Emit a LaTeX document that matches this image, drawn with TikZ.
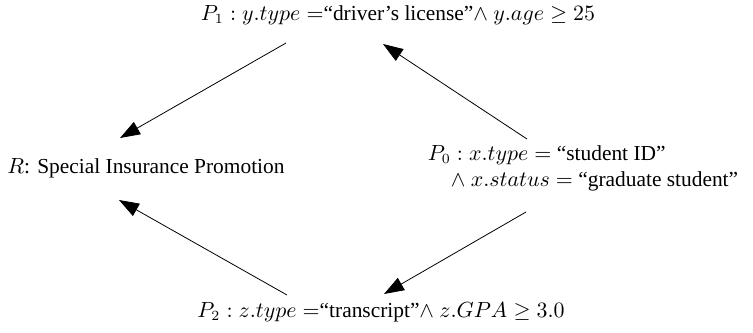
\documentclass[tikz,border=0pt]{standalone}
\usepackage{amssymb,amsmath}
\usepackage{fontspec}
\setmainfont{LiberationSerif}[Extension=.ttf,UprightFont=*-Regular,BoldFont=*-Bold,ItalicFont=*-Italic]
\usepackage{tikz}
\usetikzlibrary{arrows,arrows.meta,positioning}
\tikzset{lbl/.style={inner sep=0pt,font=\fontsize{10.7}{13}\selectfont},
         imp/.style={thin,->,>={Triangle[length=10pt,width=7pt]}}}

\begin{document}
\begin{tikzpicture}[x=0.5pt,y=-0.5pt]
\useasboundingbox (0,0) rectangle (753,332);
%predicates and rule
\node[lbl] (p1) at (398,15) {$P_1 : y.type =$“driver’s license”$\wedge\ y.age \geq 25$};
\node[lbl] (r) at (146,168) {$R$: Special Insurance Promotion};
\node[lbl,align=left] (p0) at (583,168) {$P_0 : x.type =$ “student ID”\\ \hspace{11.5pt}$\wedge\ x.status =$ “graduate student”};
\node[lbl] (p2) at (381,312) {$P_2 : z.type =$“transcript”$\wedge\ z.GPA \geq 3.0$};
%arrows
\draw[imp] ([shift={(-112,28)}]p1.center) -- ([shift={(-26,-30)}]r.center);
\draw[imp] ([shift={(-56,-29)}]p0.center) -- ([shift={(-15,29)}]p1.center);
\draw[imp] ([shift={(-94,-17)}]p2.center) -- ([shift={(-27,32)}]r.center);
\draw[imp] ([shift={(-57,44)}]p0.center) -- ([shift={(3,-18)}]p2.center);
\end{tikzpicture}
\end{document}
